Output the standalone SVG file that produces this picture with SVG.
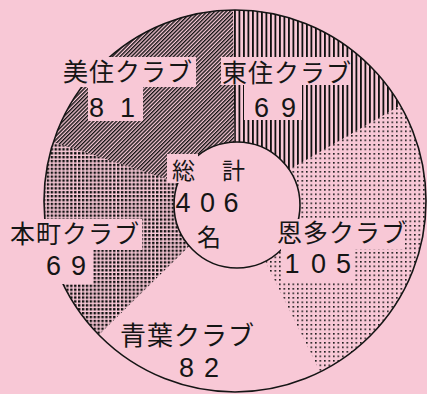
<svg xmlns="http://www.w3.org/2000/svg" width="427" height="394" viewBox="0 0 427 394">
  <defs>
    <pattern id="pDiag" width="2.7" height="6" patternUnits="userSpaceOnUse" patternTransform="rotate(45)">
      <rect x="0" y="0" width="1.4" height="6" fill="#111"/>
    </pattern>
    <pattern id="pVert" width="4.5" height="10" patternUnits="userSpaceOnUse">
      <rect x="0" y="0" width="2" height="10" fill="#111" shape-rendering="crispEdges"/>
    </pattern>
    <pattern id="pDotSparse" width="4.5" height="4.5" patternUnits="userSpaceOnUse">
      <rect x="0" y="0" width="1.6" height="1.6" fill="#1a1a1a"/>
    </pattern>
    <pattern id="pDotDense" width="3.9" height="3.9" patternUnits="userSpaceOnUse">
      <rect x="0" y="0" width="2.4" height="2.4" fill="#111"/>
    </pattern>
  </defs>
  <style>
    .jp { font-family: "Noto Sans CJK JP", "Noto Sans CJK SC", sans-serif; font-size: 25px; fill: #151515; letter-spacing: 1px; }
    .num { font-family: "Liberation Sans", Arial, sans-serif; font-size: 27px; fill: #151515; text-anchor: middle; }
    .cut { fill: #f8c8d6; stroke: none; }
    .rim { fill: none; stroke: #151515; stroke-width: 1.6; }
  </style>

  <rect x="0" y="0" width="427" height="394" fill="#f8c8d6"/>

  <g id="segments">
    <path id="seg-misumi" d="M235,201 L53.3,142 A191,191 0 0 1 233,10 Z" fill="url(#pDiag)"/>
    <path id="seg-higashizumi" d="M235,201 L233,10 A191,191 0 0 1 400.4,105.5 Z" fill="url(#pVert)"/>
    <path id="seg-onda" d="M235,201 L400.4,105.5 A191,191 0 0 1 320.2,371.9 Z" fill="url(#pDotSparse)"/>
    <path id="seg-aoba" d="M235,201 L320.2,371.9 A191,191 0 0 1 98.8,334.9 Z" fill="none"/>
    <path id="seg-honmachi" d="M235,201 L98.8,334.9 A191,191 0 0 1 53.3,142 Z" fill="url(#pDotDense)"/>
  </g>

  <circle id="outer-rim" class="rim" cx="235" cy="201" r="191"/>
  <circle id="center-hole" cx="237" cy="205" r="63" fill="#f8c8d6" stroke="#151515" stroke-width="1.6"/>

  <g id="label-misumi">
    <rect class="cut" x="60" y="57" width="136" height="30"/>
    <rect class="cut" x="88" y="87" width="55" height="34"/>
    <text class="jp" x="63" y="81">美住クラブ</text>
    <text class="num" x="96.5" y="117">8</text>
    <text class="num" x="127.5" y="117">1</text>
  </g>

  <g id="label-higashizumi">
    <rect class="cut" x="221" y="57" width="128" height="28"/>
    <rect class="cut" x="244" y="85" width="58" height="35"/>
    <text class="jp" x="222" y="82">東住クラブ</text>
    <text class="num" x="261.5" y="117">6</text>
    <text class="num" x="288.5" y="117">9</text>
  </g>

  <g id="label-onda">
    <rect class="cut" x="274" y="219" width="131" height="30"/>
    <rect class="cut" x="281" y="249" width="72" height="34"/>
    <text class="jp" x="277" y="242">恩多クラブ</text>
    <text class="num" x="292" y="273">1</text>
    <text class="num" x="318.5" y="273">0</text>
    <text class="num" x="343.5" y="273">5</text>
  </g>

  <g id="label-honmachi">
    <rect class="cut" x="8" y="219" width="134" height="31"/>
    <rect class="cut" x="45" y="250" width="48" height="34"/>
    <text class="jp" x="10" y="243">本町クラブ</text>
    <text class="num" x="53.5" y="275">6</text>
    <text class="num" x="78.5" y="275">9</text>
  </g>

  <g id="label-aoba">
    <text class="jp" x="120" y="345" style="font-size:26px">青葉クラブ</text>
    <text class="num" x="186.5" y="377">8</text>
    <text class="num" x="211.5" y="377">2</text>
  </g>

  <g id="label-total">
    <rect class="cut" x="167" y="154" width="31" height="29"/>
    <text class="jp" x="172" y="179" style="font-size:23px">総</text>
    <text class="jp" x="222" y="179" style="font-size:23px">計</text>
    <text class="num" x="183" y="212">4</text>
    <text class="num" x="207.5" y="212">0</text>
    <text class="num" x="231" y="212">6</text>
    <text class="jp" x="197" y="246" style="font-size:24px">名</text>
  </g>
</svg>
